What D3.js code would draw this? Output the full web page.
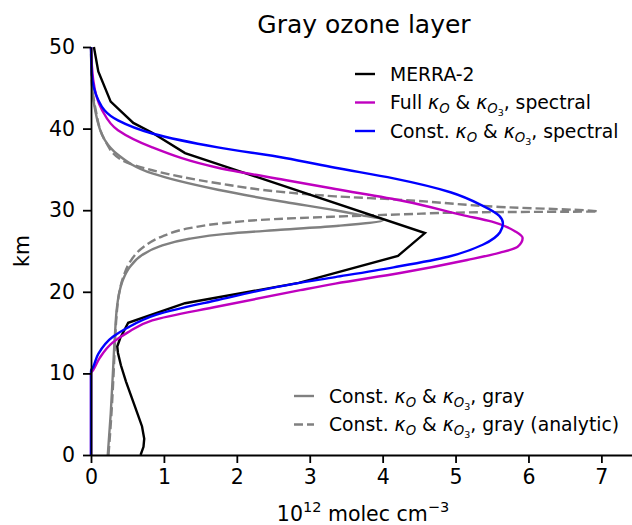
<html>
<head>
	<script src="https://d3js.org/d3.v7.min.js"></script>
	<style>
		body { margin: 0; background: white; }
		text { font-family: "DejaVu Sans", sans-serif; }
	</style>
</head>
<body>
	<div id="viz"></div>

	<script>
	// altitude (km) and concentration (10^12 molec cm^-3) for each profile
	var merraKm   = [0, 1, 2, 3.5, 5, 7, 9, 11, 12.5, 13.3, 14.3, 16.2, 18.6, 21.1, 24.4, 27.2, 37.0, 39.5, 40.7, 43.3, 47, 50];
	var merraConc = [0.68, 0.72, 0.73, 0.70, 0.64, 0.56, 0.48, 0.41, 0.37, 0.36, 0.40, 0.51, 1.29, 2.85, 4.21, 4.58, 1.29, 0.84, 0.58, 0.27, 0.10, 0.04];

	var fullKm   = [0, 10.0, 10.4, 11.9, 13.8, 15.0, 16.5, 18.2, 20.2, 21.0, 22.3, 23.9, 24.8, 25.5, 26.6, 27.4, 28.6, 29.4, 31.1, 32.6, 33.7, 35.2, 37.7, 39.8, 42.3, 46, 50];
	var fullConc = [0, 0, 0.03, 0.12, 0.30, 0.50, 0.84, 1.74, 2.87, 3.35, 4.24, 5.16, 5.61, 5.85, 5.92, 5.82, 5.50, 5.10, 4.30, 3.35, 2.66, 1.74, 0.84, 0.37, 0.15, 0.03, 0];

	var constKm   = [0, 10.3, 10.8, 12.4, 14.5, 15.6, 17.2, 19.0, 21.0, 21.8, 23.0, 24.3, 25.8, 27.3, 28.4, 29.3, 30.6, 32.2, 33.9, 35.2, 36.4, 37.7, 39.4, 41, 43.5, 46.8, 50];
	var constConc = [0, 0, 0.03, 0.10, 0.30, 0.50, 0.90, 1.74, 2.80, 3.35, 4.15, 4.90, 5.38, 5.61, 5.65, 5.60, 5.36, 4.93, 4.15, 3.35, 2.66, 1.74, 0.84, 0.37, 0.10, 0.01, 0];

	var grayKm   = [0, 5, 10, 15, 18, 20, 21.5, 23, 24.5, 25.6, 26.5, 27.1, 27.6, 28.1, 28.8, 29.4, 30.0, 31.0, 32.5, 34.5, 36.8, 38.6, 42.6, 46, 50];
	var grayConc = [0.23, 0.27, 0.30, 0.33, 0.355, 0.39, 0.44, 0.53, 0.70, 0.95, 1.35, 1.85, 2.60, 3.40, 4.01, 3.70, 3.35, 2.66, 1.74, 0.84, 0.37, 0.19, 0.05, 0.01, 0];

	var analyticKm   = [0, 5, 10, 14, 17, 19.5, 22, 24, 25.5, 26.8, 27.8, 28.4, 28.9, 29.2, 29.5, 29.75, 29.85, 30.4, 31.3, 31.7, 32.2, 33.3, 34.9, 36.1, 38.4, 42.5, 46, 50];
	var analyticConc = [0.24, 0.28, 0.31, 0.33, 0.35, 0.38, 0.45, 0.56, 0.72, 0.98, 1.35, 1.80, 2.50, 3.30, 4.30, 5.30, 6.95, 5.61, 4.20, 3.35, 2.66, 1.74, 0.84, 0.43, 0.20, 0.06, 0.01, 0];

	var xTicks = [0, 1, 2, 3, 4, 5, 6, 7];
	var yTicks = [0, 10, 20, 30, 40, 50];

	//1. canvas and scales
	var svg = d3.select("#viz").append("svg")
		.attr("width", 632).attr("height", 525);

	var x = d3.scaleLinear().domain([0, 7.42]).range([91, 632]);
	var y = d3.scaleLinear().domain([0, 50]).range([455, 47]);

	function pts(km, conc) {
		return km.map(function(d, i) { return [conc[i], d]; });
	}

	var smooth = d3.line()
		.x(function(d) { return x(d[0]); })
		.y(function(d) { return y(d[1]); })
		.curve(d3.curveMonotoneY);

	var straight = d3.line()
		.x(function(d) { return x(d[0]); })
		.y(function(d) { return y(d[1]); });

	//2. profiles
	var plot = svg.append("g").attr("fill", "none").attr("stroke-width", 2.4);

	plot.append("path").attr("d", smooth(pts(grayKm, grayConc)))
		.attr("stroke", "#808080");
	plot.append("path").attr("d", smooth(pts(analyticKm, analyticConc)))
		.attr("stroke", "#808080").attr("stroke-dasharray", "9,4");
	plot.append("path").attr("d", straight(pts(merraKm, merraConc)))
		.attr("stroke", "black");
	plot.append("path").attr("d", smooth(pts(fullKm, fullConc)))
		.attr("stroke", "#bf00bf");
	plot.append("path").attr("d", smooth(pts(constKm, constConc)))
		.attr("stroke", "#0000ff");

	//3. axes
	var xAxis = svg.append("g").attr("transform", "translate(0,455)")
		.call(d3.axisBottom(x).tickValues(xTicks).tickSize(8).tickPadding(6).tickSizeOuter(0));
	var yAxis = svg.append("g").attr("transform", "translate(91,0)")
		.call(d3.axisLeft(y).tickValues(yTicks).tickSize(8).tickPadding(8).tickSizeOuter(0));

	svg.selectAll(".domain, .tick line").attr("stroke", "black").attr("stroke-width", 1.8);
	svg.selectAll(".tick text").attr("font-family", "DejaVu Sans").attr("font-size", 20.5).attr("fill", "black");

	//4. titles
	svg.append("text").attr("x", 364).attr("y", 33).attr("text-anchor", "middle")
		.attr("font-size", 25).text("Gray ozone layer");

	svg.append("text").attr("transform", "translate(29,251) rotate(-90)")
		.attr("text-anchor", "middle").attr("font-size", 20.5).text("km");

	var xl = svg.append("text").attr("x", 363).attr("y", 521).attr("text-anchor", "middle")
		.attr("font-size", 20.5);
	xl.append("tspan").text("10");
	xl.append("tspan").attr("dy", -9).attr("font-size", 14.5).text("12");
	xl.append("tspan").attr("dy", 9).text(" molec cm");
	xl.append("tspan").attr("dy", -9).attr("font-size", 14.5).text("\u22123");

	//5. legends
	function kappaLabel(t, tail) {
		t.append("tspan").attr("font-style", "italic").text("\u03ba");
		t.append("tspan").attr("font-style", "italic").attr("font-size", 13.2).attr("dy", 4).text("O");
		t.append("tspan").attr("dy", -4).text(" & ");
		t.append("tspan").attr("font-style", "italic").text("\u03ba");
		t.append("tspan").attr("font-style", "italic").attr("font-size", 13.2).attr("dy", 4).text("O");
		t.append("tspan").attr("font-size", 9.5).attr("dy", 3).text("3");
		t.append("tspan").attr("dy", -7).text(tail);
	}

	var legend1 = [
		{ label: "MERRA-2", color: "black", dash: null, pre: null, tail: null },
		{ label: null, color: "#bf00bf", dash: null, pre: "Full ", tail: ", spectral" },
		{ label: null, color: "#0000ff", dash: null, pre: "Const. ", tail: ", spectral" }
	];
	var legend2 = [
		{ label: null, color: "#808080", dash: null, pre: "Const. ", tail: ", gray" },
		{ label: null, color: "#808080", dash: "9,4", pre: "Const. ", tail: ", gray (analytic)" }
	];

	function drawLegend(items, lx, ly) {
		items.forEach(function(d, i) {
			var yy = ly + i * 28.5;
			svg.append("line").attr("x1", lx).attr("x2", lx + 20).attr("y1", yy).attr("y2", yy)
				.attr("stroke", d.color).attr("stroke-width", 2.4)
				.attr("stroke-dasharray", d.dash);
			var t = svg.append("text").attr("x", lx + 35).attr("y", yy + 6.5).attr("font-size", 18.8);
			if (d.label) t.text(d.label);
			else { t.append("tspan").text(d.pre); kappaLabel(t, d.tail); }
		});
	}

	drawLegend(legend1, 355, 74);
	drawLegend(legend2, 294, 396);
	</script>
</body>
</html>
